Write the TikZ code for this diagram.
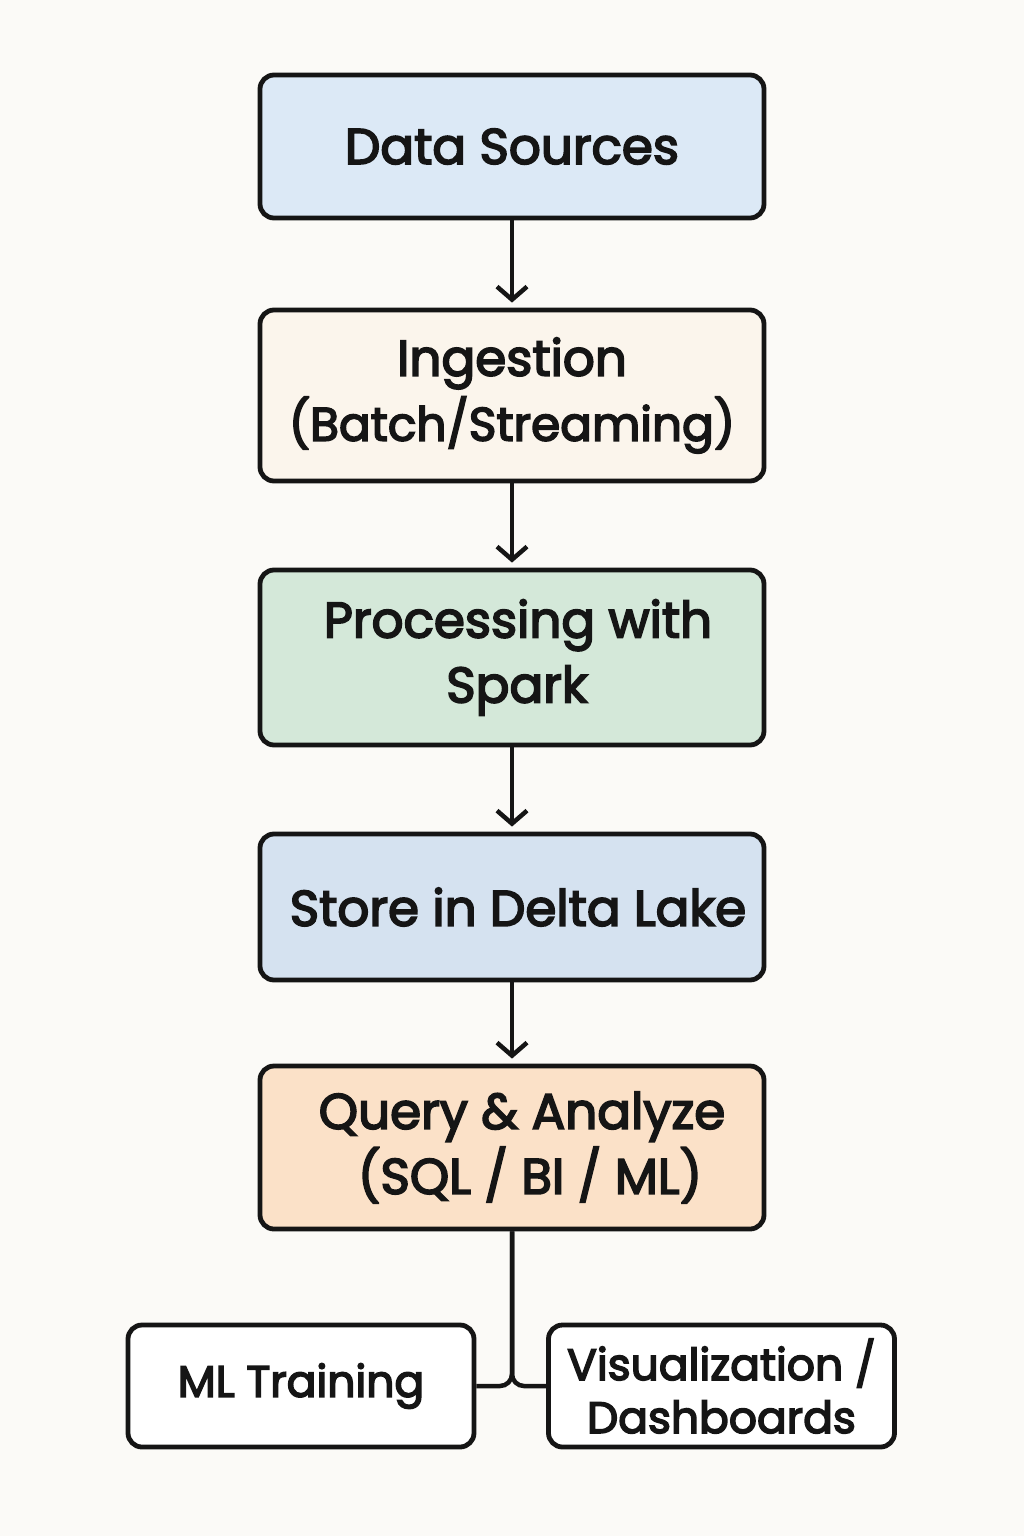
\documentclass[tikz,border=0pt]{standalone}
\usepackage{fontspec}
\setmainfont{Poppins}[FakeBold=3.5]
\usetikzlibrary{arrows.meta}
\definecolor{bg}{HTML}{FBFAF7}
\definecolor{cBlue}{HTML}{DCE9F6}
\definecolor{cCream}{HTML}{FBF5EC}
\definecolor{cGreen}{HTML}{D4E8D9}
\definecolor{cBlue2}{HTML}{D5E2F0}
\definecolor{cPeach}{HTML}{FBE1C8}
\definecolor{ink}{HTML}{151515}
\newcommand{\shiftline}[1]{\hspace*{#1pt}}
\begin{document}
\begin{tikzpicture}[x=1pt,y=-1pt,
  box/.style={draw=ink, line width=4.8pt, rounded corners=14pt, text=ink,
    align=center, inner sep=0pt, font=\fontsize{50}{65}\selectfont},
  mainbox/.style={box, minimum width=504pt},
  smallbox/.style={box, minimum width=346pt, minimum height=122pt, fill=white,
    font=\fontsize{44}{53}\selectfont},
  flow/.style={draw=ink, line width=4.5pt, -{Straight Barb[length=13pt,width=30pt,line width=4.5pt]}, shorten >=5pt},
  link/.style={draw=ink, line width=4.5pt, rounded corners=12pt}]
\fill[bg] (0,0) rectangle (1024,1536);
\useasboundingbox (0,0) rectangle (1024,1536);
\node[mainbox, fill=cBlue, minimum height=143pt] (src) at (512,146.5) {Data Sources};
\node[mainbox, fill=cCream, minimum height=171pt] (ing) at (512,395.5) {Ingestion\\{\fontsize{47}{65}\selectfont(Batch/Streaming)}};
\node[mainbox, fill=cGreen, minimum height=175pt] (proc) at (512,657.5) {\shiftline{12}Processing with\\\shiftline{10}Spark};
\node[mainbox, fill=cBlue2, minimum height=146pt] (store) at (512,907) {\shiftline{12}Store in Delta Lake};
\node[mainbox, fill=cPeach, minimum height=163pt] (query) at (512,1147.5) {\shiftline{20}Query \& Analyze\\\shiftline{36}(SQL / BI / ML)};
\node[smallbox] (ml) at (301,1386) {ML Training};
\node[smallbox] (vis) at (721.5,1386) {Visualization /\\Dashboards};
\draw[flow] (src) -- (ing);
\draw[flow] (ing) -- (proc);
\draw[flow] (proc) -- (store);
\draw[flow] (store) -- (query);
\draw[link] (query.south) |- (ml.east);
\draw[link] (query.south) |- (vis.west);
\end{tikzpicture}
\end{document}
